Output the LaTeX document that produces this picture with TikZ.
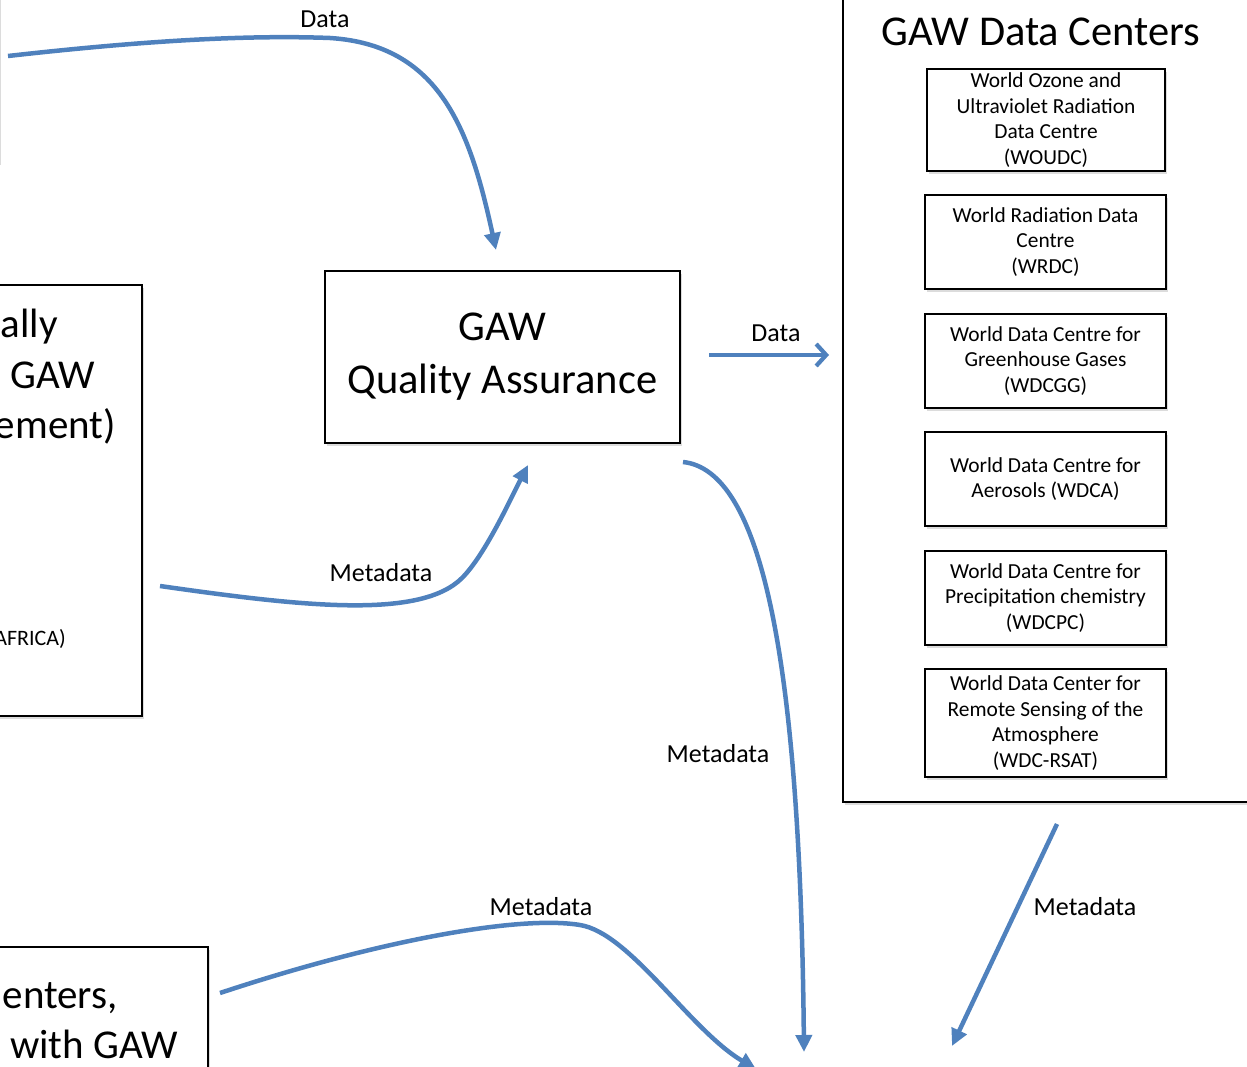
\documentclass[tikz,border=0pt]{standalone}
\usepackage{fontspec}
\setmainfont{Carlito}
\usetikzlibrary{arrows.meta,shadows}
\definecolor{arrowblue}{RGB}{79,129,189}
\begin{document}
\begin{tikzpicture}[x=1pt,y=-1pt,
  box/.style={draw=black,line width=1.6pt,fill=white,
    drop shadow={shadow xshift=2pt,shadow yshift=-3pt,fill=black!30,opacity=0.45}},
  small/.style={box,line width=1.5pt,align=center,inner sep=2pt,
    font=\fontsize{21.4}{25.7}\selectfont},
  lbl/.style={font=\fontsize{26}{30}\selectfont,anchor=base,inner sep=0pt},
  bigtxt/.style={font=\fontsize{41}{50}\selectfont,inner sep=0pt,anchor=base east},
  flow/.style={draw=arrowblue,line width=4.5pt,-{Triangle[length=17pt,width=16pt]}},
  flowbarb/.style={draw=arrowblue,line width=4.2pt,-{Straight Barb[length=10pt,width=22pt]}},
]
\useasboundingbox (0,0) rectangle (1247,1067);

% partial boxes at the edges
\node[box,minimum width=99pt,minimum height=212pt] (tlbox) at (-50.5,56) {};
\node[box,minimum width=192pt,minimum height=431pt] (lbox) at (46,500.5) {};
\node[box,minimum width=258pt,minimum height=200pt] (blbox) at (79,1047) {};
\node[box,minimum width=457pt,minimum height=852pt] (rbox) at (1071.5,376) {};

% texts of partial boxes
\node[bigtxt] (lt1) at (58,337) {ally};
\node[bigtxt] (lt2) at (95,388) {GAW};
\node[bigtxt] (lt3) at (116,438) {ement)};
\node[font=\fontsize{22}{26}\selectfont,inner sep=0pt,anchor=base east] (lt4) at (66,645) {AFRICA)};
\node[bigtxt] (bt1) at (118,1008) {enters,};
\node[bigtxt] (bt2) at (178,1058) {with GAW};

% right box title
\node[font=\fontsize{42.5}{50}\selectfont,inner sep=0pt,anchor=base] (rtitle) at (1041,46) {GAW Data Centers};

% QA box
\node[box,minimum width=355pt,minimum height=172pt,align=center,
  font=\fontsize{42.5}{53}\selectfont] (qa) at (502.5,357) {GAW\\Quality Assurance};

% data centre boxes
\node[small,minimum width=238pt,minimum height=102pt] (woudc) at (1046,120)
  {World Ozone and\\Ultraviolet Radiation\\Data Centre\\(WOUDC)};
\node[small,minimum width=241pt,minimum height=94pt] (wrdc) at (1045.5,242)
  {World Radiation Data\\Centre\\(WRDC)};
\node[small,minimum width=241pt,minimum height=94pt] (wdcgg) at (1045.5,361)
  {World Data Centre for\\Greenhouse Gases\\(WDCGG)};
\node[small,minimum width=241pt,minimum height=94pt] (wdca) at (1045.5,479)
  {World Data Centre for\\Aerosols (WDCA)};
\node[small,minimum width=241pt,minimum height=94pt] (wdcpc) at (1045.5,598)
  {World Data Centre for\\Precipitation chemistry\\(WDCPC)};
\node[small,minimum width=241pt,minimum height=108pt] (wdcrsat) at (1045.5,723)
  {World Data Center for\\Remote Sensing of the\\Atmosphere\\(WDC-RSAT)};

% connector end points
\coordinate (d1s) at (8,56);
\coordinate (d1e) at (496,250);
\coordinate (d2s) at (709,355);
\coordinate (d2e) at (829,355);
\coordinate (m1s) at (160,586);
\coordinate (m1e) at (528,465);
\coordinate (m2s) at (683,462);
\coordinate (m2e) at (804,1052);
\coordinate (m3s) at (220,993);
\coordinate (m3e) at (756,1069);
\coordinate (m4s) at (1057,824);
\coordinate (m4e) at (952,1046);

% connectors
\draw[flow] (d1s) .. controls (150,40) and (250,35) .. (330,38)
  .. controls (440,45) and (470,130) .. (d1e);
\draw[flowbarb] (d2s) -- (d2e);
\draw[flow] (m1s) .. controls (300,606) and (420,620) .. (462,578)
  .. controls (485,555) and (510,500) .. (m1e);
\draw[flow] (m2s) .. controls (760,470) and (800,650) .. (m2e);
\draw[flow] (m3s) .. controls (380,940) and (520,915) .. (580,925)
  .. controls (630,933) and (690,1030) .. (m3e);
\draw[flow] (m4s) -- (m4e);

% labels
\node[lbl] (l1) at (325,28) {Data};
\node[lbl] (l2) at (776,341) {Data};
\node[lbl] (l3) at (381,581) {Metadata};
\node[lbl] (l4) at (718,762) {Metadata};
\node[lbl] (l5) at (541,915) {Metadata};
\node[lbl] (l6) at (1085,915) {Metadata};
\end{tikzpicture}
\end{document}
